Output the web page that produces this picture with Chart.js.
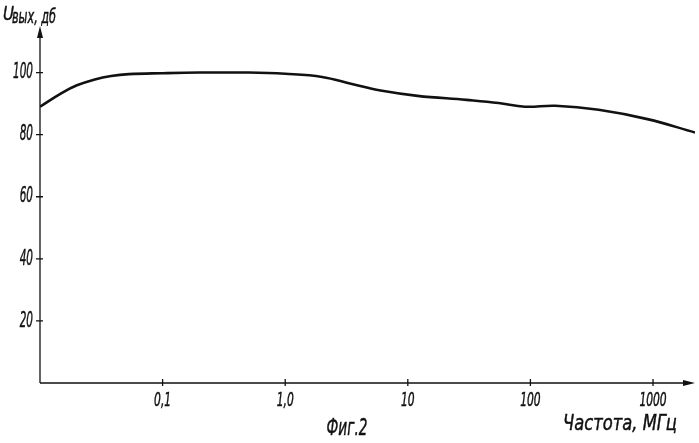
<!DOCTYPE html>
<html>
<head>
<meta charset="utf-8">
<script src="https://cdn.jsdelivr.net/npm/chart.js@4/dist/chart.umd.min.js"></script>
<style>
  html, body { margin: 0; padding: 0; background: #fff; }
  #wrap { width: 699px; height: 443px; }
</style>
</head>
<body>
<div id="wrap"><canvas id="chart" width="699" height="443"></canvas></div>
<script>
// frequency, MHz (log axis)
const freqs = [0.01, 0.015, 0.02, 0.028, 0.038, 0.053, 0.1, 0.2, 0.5, 1.0, 2.0, 3.5, 6, 12, 30, 55, 90, 160, 360, 900, 2200];
// output level, dB
const levels = [89, 93.4, 95.9, 97.8, 98.9, 99.5, 99.8, 100, 100, 99.6, 98.6, 96.3, 94.2, 92.5, 91.2, 90.2, 89, 89.3, 88, 85, 80.7];

const xTickValues = [0.1, 1, 10, 100, 1000];
const xTickLabels = ['0,1', '1,0', '10', '100', '1000'];
const yTickValues = [20, 40, 60, 80, 100];

const FONT = "'DejaVu Sans', sans-serif";

const points = freqs.map((f, i) => ({ x: f, y: levels[i] }));

// italic text squeezed horizontally, to look like drafting lettering
function squeezed(ctx, text, x, y, size, sx, align) {
  ctx.save();
  ctx.font = 'italic ' + size + 'px ' + FONT;
  const w = ctx.measureText(text).width * sx;
  let x0 = x;
  if (align === 'center') x0 = x - w / 2;
  if (align === 'right') x0 = x - w;
  ctx.translate(x0, y);
  ctx.scale(sx, 1);
  ctx.textAlign = 'left';
  ctx.textBaseline = 'middle';
  ctx.lineWidth = 0.5;
  ctx.fillText(text, 0, 0);
  ctx.strokeText(text, 0, 0);
  ctx.restore();
}

function fitScale(ctx, text, size, width) {
  ctx.font = 'italic ' + size + 'px ' + FONT;
  return width / ctx.measureText(text).width;
}

// axes with arrows, crossing tick marks, tick labels and captions
const drawing = {
  id: 'drawing',
  afterDraw(chart) {
    const ctx = chart.ctx;
    const { left, right, top, bottom } = chart.chartArea;
    const xs = chart.scales.x;
    const ys = chart.scales.y;
    ctx.save();
    ctx.strokeStyle = '#111';
    ctx.fillStyle = '#111';
    ctx.lineWidth = 1.3;

    ctx.beginPath();
    ctx.moveTo(left, bottom);
    ctx.lineTo(left, top + 4);
    ctx.moveTo(left, bottom);
    ctx.lineTo(right - 4, bottom);
    ctx.stroke();

    // arrow heads
    ctx.beginPath();
    ctx.moveTo(left, top);
    ctx.lineTo(left - 3, top + 12);
    ctx.lineTo(left + 3, top + 12);
    ctx.closePath();
    ctx.fill();
    ctx.beginPath();
    ctx.moveTo(right, bottom);
    ctx.lineTo(right - 12, bottom - 3);
    ctx.lineTo(right - 12, bottom + 3);
    ctx.closePath();
    ctx.fill();

    ctx.beginPath();
    yTickValues.forEach((v) => {
      const y = ys.getPixelForValue(v);
      ctx.moveTo(left - 4, y);
      ctx.lineTo(left + 3, y);
    });
    xTickValues.forEach((v) => {
      const x = xs.getPixelForValue(v);
      ctx.moveTo(x, bottom - 4);
      ctx.lineTo(x, bottom + 3);
    });
    ctx.stroke();

    const sy = fitScale(ctx, '100', 22, 20);
    yTickValues.forEach((v) => {
      squeezed(ctx, String(v), left - 7, ys.getPixelForValue(v), 22, sy, 'right');
    });
    const sxl = fitScale(ctx, '0,1', 19, 17);
    xTickValues.forEach((v, i) => {
      squeezed(ctx, xTickLabels[i], xs.getPixelForValue(v), bottom + 18, 19, sxl, 'center');
    });

    squeezed(ctx, 'U', 3, 15, 20, 0.75, 'left');
    squeezed(ctx, 'вых, дб', 12, 18, 19, fitScale(ctx, 'вых, дб', 19, 44), 'left');
    squeezed(ctx, 'Частота, МГц', 620, 425, 21, fitScale(ctx, 'Частота, МГц', 21, 114), 'center');
    squeezed(ctx, 'Фиг.2', 347, 429, 23, fitScale(ctx, 'Фиг.2', 23, 41), 'center');
    ctx.restore();
  },
};

new Chart(document.getElementById('chart'), {
  type: 'line',
  data: {
    datasets: [
      {
        data: points,
        borderColor: '#111',
        borderWidth: 2.6,
        pointRadius: 0,
        fill: false,
        tension: 0.4,
      },
    ],
  },
  options: {
    responsive: false,
    animation: false,
    layout: { padding: { top: 26, right: 4, bottom: 0, left: 0 } },
    plugins: {
      legend: { display: false },
      tooltip: { enabled: false },
    },
    scales: {
      x: {
        type: 'logarithmic',
        min: 0.01,
        max: 2200,
        grid: { display: false },
        border: { display: false },
        afterBuildTicks: (axis) => {
          axis.ticks = xTickValues.map((v) => ({ value: v }));
        },
        afterFit: (axis) => { axis.height = 60; },
        ticks: { display: false },
      },
      y: {
        type: 'linear',
        min: 0,
        max: 115,
        grid: { display: false },
        border: { display: false },
        afterBuildTicks: (axis) => {
          axis.ticks = yTickValues.map((v) => ({ value: v }));
        },
        afterFit: (axis) => { axis.width = 40; },
        ticks: { display: false },
      },
    },
  },
  plugins: [drawing],
});
</script>
</body>
</html>
